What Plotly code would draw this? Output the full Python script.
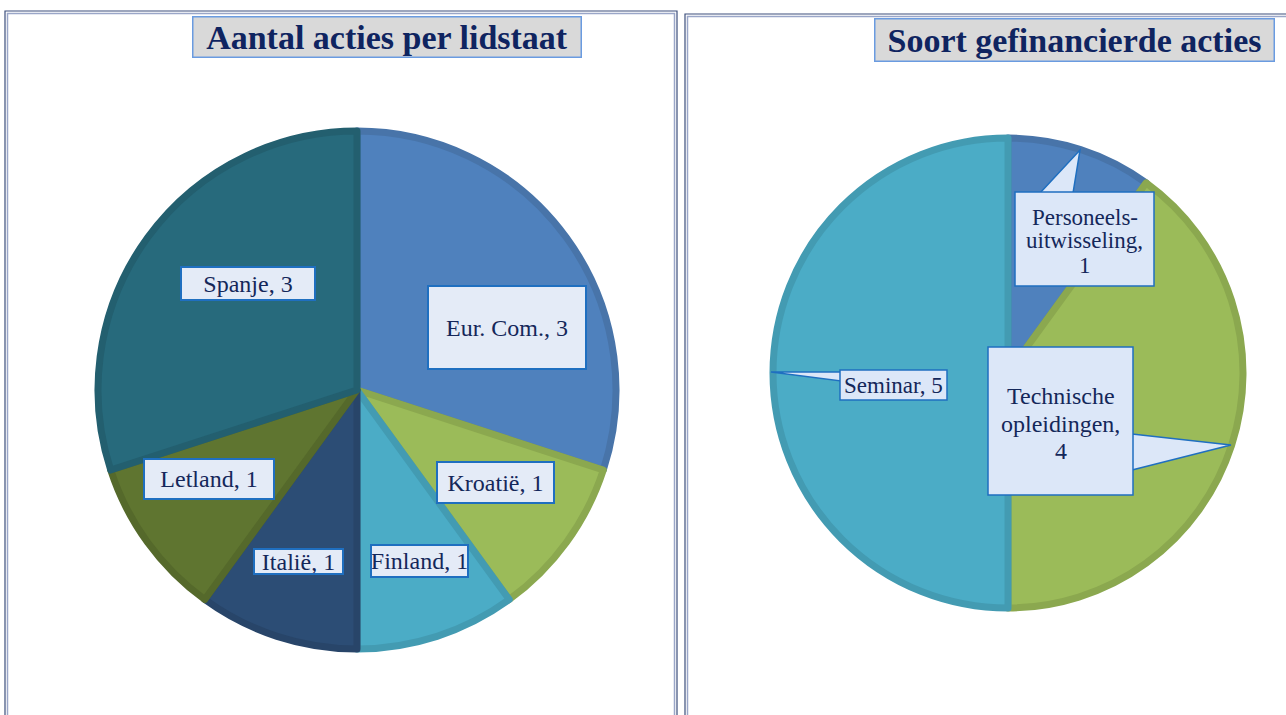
import plotly.graph_objects as go

W, H = 1286, 715

# ---- data ----
left_title = "Aantal acties per lidstaat"
left_labels = ["Eur. Com.", "Kroatië", "Finland", "Italië", "Letland", "Spanje"]
left_values = [3, 1, 1, 1, 1, 3]

right_title = "Soort gefinancierde acties"
right_labels = ["Personeels-\nuitwisseling", "Technische\nopleidingen", "Seminar"]
right_values = [1, 4, 5]

# ---- styles ----
left_colors = ["#4F81BD", "#9BBB59", "#4BACC6", "#2C4D75", "#5F7530", "#276A7C"]
left_edges = ["#4874A9", "#8BA84F", "#439BB2", "#284569", "#55692B", "#235F6F"]
right_colors = ["#4F81BD", "#9BBB59", "#4BACC6"]
right_edges = ["#4874A9", "#8BA84F", "#439BB2"]

def px(x):
    return x / W

def py(y):
    return 1 - y / H

fig = go.Figure()

fig.add_trace(go.Pie(
    labels=left_labels, values=left_values, sort=False, direction="clockwise",
    rotation=0, textinfo="none", hoverinfo="skip", showlegend=False,
    marker=dict(colors=left_colors, line=dict(color=left_edges, width=7)),
    domain=dict(x=[px(98), px(616)], y=[py(649), py(131)]),
))
fig.add_trace(go.Pie(
    labels=[l.replace("\n", "") for l in right_labels], values=right_values, sort=False,
    direction="clockwise", rotation=0, textinfo="none", hoverinfo="skip", showlegend=False,
    marker=dict(colors=right_colors, line=dict(color=right_edges, width=7)),
    domain=dict(x=[px(773), px(1243)], y=[py(608), py(138)]),
))

shapes = []
for (x0, y0, x1) in [(5, 11, 677), (685, 14, 1292)]:
    shapes.append(dict(type="rect", xref="paper", yref="paper",
                       x0=px(x0), y0=py(y0), x1=px(x1), y1=py(722),
                       line=dict(color="#3D4F7C", width=1.2), layer="above"))
    shapes.append(dict(type="rect", xref="paper", yref="paper",
                       x0=px(x0 + 2.5), y0=py(y0 + 2.5), x1=px(x1 - 2.5), y1=py(722),
                       line=dict(color="#9AA6C8", width=1.5), layer="above"))

LBL_FILL_R = "#DCE7F8"
LBL_LINE = "#1F6FC0"
callouts = [
    ((1080, 150), (1040, 193), (1073, 193)),
    ((771, 372), (841, 372), (841, 381)),
    ((1231, 445), (1132, 434), (1132, 470)),
]
for tip, b1, b2 in callouts:
    path = "M {} {} L {} {} L {} {} Z".format(px(b1[0]), py(b1[1]), px(tip[0]), py(tip[1]), px(b2[0]), py(b2[1]))
    shapes.append(dict(type="path", xref="paper", yref="paper", path=path,
                       fillcolor=LBL_FILL_R, line=dict(color=LBL_LINE, width=1.5), layer="above"))

annotations = []
TXT = "#14275A"
for text, cx, cy, bw, bh in [(left_title, 387, 37, 390, 42), (right_title, 1074, 40, 401, 44)]:
    annotations.append(dict(
        text="<b>" + text + "</b>", xref="paper", yref="paper", x=px(cx), y=py(cy),
        xanchor="center", yanchor="middle", showarrow=False,
        font=dict(family="Liberation Serif", size=34, color="#0F2460"),
        bgcolor="#D9D9D9", bordercolor="#6A9BE0", borderwidth=1.5, borderpad=0,
        width=bw - 3, height=bh - 3,
    ))

left_boxes = [(507, 327, 160, 85), (496, 482, 119, 43), (419, 561, 99, 34),
              (298, 561, 91, 27), (209, 479, 132, 42), (248, 283, 136, 35)]
for lab, val, (cx, cy, bw, bh) in zip(left_labels, left_values, left_boxes):
    annotations.append(dict(
        text=f"{lab}, {val}", xref="paper", yref="paper", x=px(cx), y=py(cy),
        xanchor="center", yanchor="middle", showarrow=False,
        font=dict(family="Liberation Serif", size=24, color=TXT),
        bgcolor="#E4EBF7", bordercolor=LBL_LINE, borderwidth=2, borderpad=0,
        width=bw - 4, height=bh - 4,
    ))

# right labels: box (x0, y0, x1, y1), first line centre y, line step, font size
right_boxes = [((1015, 192, 1154, 286), 217, 24, 23),
               ((988, 347, 1133, 495), 396, 27.5, 24),
               ((840, 370, 947, 400), 385, 0, 23)]
for lab, val, (box, y_first, step, fs) in zip(right_labels, right_values, right_boxes):
    x0, y0, x1, y1 = box
    shapes.append(dict(type="rect", xref="paper", yref="paper",
                       x0=px(x0), y0=py(y0), x1=px(x1), y1=py(y1),
                       fillcolor=LBL_FILL_R, line=dict(color=LBL_LINE, width=1.5), layer="above"))
    if "\n" in lab:
        lines = (lab + ",").split("\n") + [str(val)]
    else:
        lines = [f"{lab}, {val}"]
    cx = (x0 + x1) / 2
    for i, line in enumerate(lines):
        annotations.append(dict(
            text=line, xref="paper", yref="paper", x=px(cx), y=py(y_first + i * step),
            xanchor="center", yanchor="middle", showarrow=False,
            font=dict(family="Liberation Serif", size=fs, color=TXT),
        ))

fig.update_layout(
    width=W, height=H, margin=dict(l=0, r=0, t=0, b=0),
    paper_bgcolor="white", plot_bgcolor="white",
    shapes=shapes, annotations=annotations, showlegend=False,
)

fig.write_html("out.html", config={"displayModeBar": False},
               post_script="document.body.style.margin='0px';document.body.style.overflow='hidden';")
